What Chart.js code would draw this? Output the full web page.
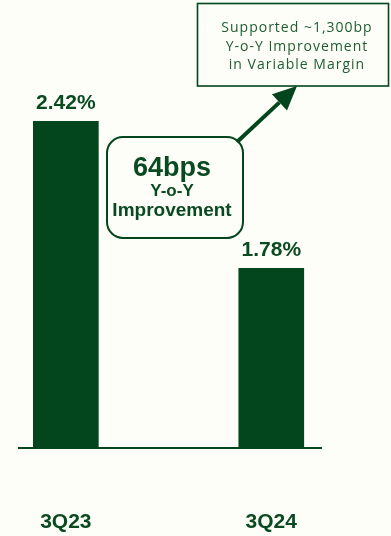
<!DOCTYPE html>
<html>
<head>
<meta charset="utf-8">
<script src="https://cdn.jsdelivr.net/npm/chart.js@4"></script>
<style>
  html, body { margin: 0; padding: 0; background: #fdfef7; }
  #wrap { width: 391px; height: 536px; position: relative; }
  canvas { display: block; }
</style>
</head>
<body>
<div id="wrap"><canvas id="chart" width="391" height="536"></canvas></div>
<script>
// Quarter labels and the rate shown for each quarter (percent)
const quarters = ['3Q23', '3Q24'];
const rateValues = [2.42, 1.78];
const yRange = [1.0, 2.6];
const xRange = [-0.228, 1.242];

// Callout text
const changeHeadline = ['64bps', 'Y-o-Y', 'Improvement'];
const noteLines = ['Supported ~1,300bp', 'Y-o-Y Improvement', 'in Variable Margin'];

const GREEN = '#03451c';
const TEXT_GREEN = '#0a4a22';
const NOTE_GREEN = '#1f5b33';
const BG = '#fdfef7';
const BOLD = '"Liberation Sans", Arial, sans-serif';

const points = rateValues.map((v, i) => ({ x: i, y: v }));

// Percent labels above each bar
const valueLabels = {
  id: 'valueLabels',
  afterDatasetsDraw(chart) {
    const ctx = chart.ctx;
    const meta = chart.getDatasetMeta(0);
    ctx.save();
    ctx.font = 'bold 21px ' + BOLD;
    ctx.fillStyle = TEXT_GREEN;
    ctx.textAlign = 'center';
    ctx.textBaseline = 'alphabetic';
    meta.data.forEach((bar, i) => {
      ctx.fillText(rateValues[i].toFixed(2) + '%', bar.x, bar.y - 12);
    });
    ctx.restore();
  }
};

// Rounded callout, arrow and note box
const callouts = {
  id: 'callouts',
  afterDraw(chart) {
    const ctx = chart.ctx;
    ctx.save();

    // rounded callout
    ctx.beginPath();
    ctx.roundRect(107, 137, 136, 101, 16);
    ctx.fillStyle = BG;
    ctx.fill();
    ctx.lineWidth = 2;
    ctx.strokeStyle = GREEN;
    ctx.stroke();

    ctx.fillStyle = TEXT_GREEN;
    ctx.textAlign = 'center';
    ctx.textBaseline = 'alphabetic';
    ctx.font = 'bold 27px ' + BOLD;
    ctx.fillText(changeHeadline[0], 172, 176);
    ctx.font = 'bold 17px ' + BOLD;
    ctx.fillText(changeHeadline[1], 172, 196);
    ctx.font = 'bold 19px ' + BOLD;
    ctx.fillText(changeHeadline[2], 172, 216);

    // arrow
    const x0 = 237, y0 = 142, x1 = 297, y1 = 86;
    const ang = Math.atan2(y1 - y0, x1 - x0);
    const headLen = 24, headHalf = 11;
    const bx = x1 - headLen * Math.cos(ang), by = y1 - headLen * Math.sin(ang);
    ctx.beginPath();
    ctx.moveTo(x0, y0);
    ctx.lineTo(bx, by);
    ctx.lineWidth = 4;
    ctx.strokeStyle = GREEN;
    ctx.stroke();
    ctx.beginPath();
    ctx.moveTo(x1, y1);
    ctx.lineTo(bx + headHalf * Math.sin(ang), by - headHalf * Math.cos(ang));
    ctx.lineTo(bx - headHalf * Math.sin(ang), by + headHalf * Math.cos(ang));
    ctx.closePath();
    ctx.fillStyle = GREEN;
    ctx.fill();

    // note box
    ctx.fillStyle = BG;
    ctx.fillRect(197.5, 3.5, 191, 82.5);
    ctx.lineWidth = 1.6;
    ctx.strokeStyle = GREEN;
    ctx.strokeRect(197.5, 3.5, 191, 82.5);
    ctx.fillStyle = NOTE_GREEN;
    ctx.font = '14px "Open Sans", sans-serif';
    ctx.letterSpacing = '1px';
    noteLines.forEach((t, i) => ctx.fillText(t, 297, 32 + i * 18.5));

    ctx.restore();
  }
};

new Chart(document.getElementById('chart'), {
  type: 'bar',
  data: {
    datasets: [{
      data: points,
      backgroundColor: GREEN,
      borderWidth: 0,
      barThickness: 65
    }]
  },
  options: {
    responsive: false,
    animation: false,
    devicePixelRatio: 1,
    layout: { padding: { left: 19, right: 70, top: 80, bottom: 0 } },
    plugins: { legend: { display: false }, tooltip: { enabled: false } },
    scales: {
      x: {
        type: 'linear',
        min: xRange[0],
        max: xRange[1],
        offset: false,
        bounds: 'data',
        grid: { display: false, drawTicks: false, offset: false },
        border: { display: true, color: GREEN, width: 2 },
        afterBuildTicks(scale) { scale.ticks = quarters.map((_, i) => ({ value: i })); },
        afterFit(scale) {
          scale.height = 88.5;
          scale.paddingLeft = 0;
          scale.paddingRight = 0;
        },
        ticks: {
          padding: 62,
          maxRotation: 0,
          autoSkip: false,
          color: TEXT_GREEN,
          font: { family: BOLD, size: 21, weight: 'bold' },
          callback: (v) => quarters[v]
        }
      },
      y: {
        display: false,
        min: yRange[0],
        max: yRange[1]
      }
    }
  },
  plugins: [valueLabels, callouts]
});
</script>
</body>
</html>
